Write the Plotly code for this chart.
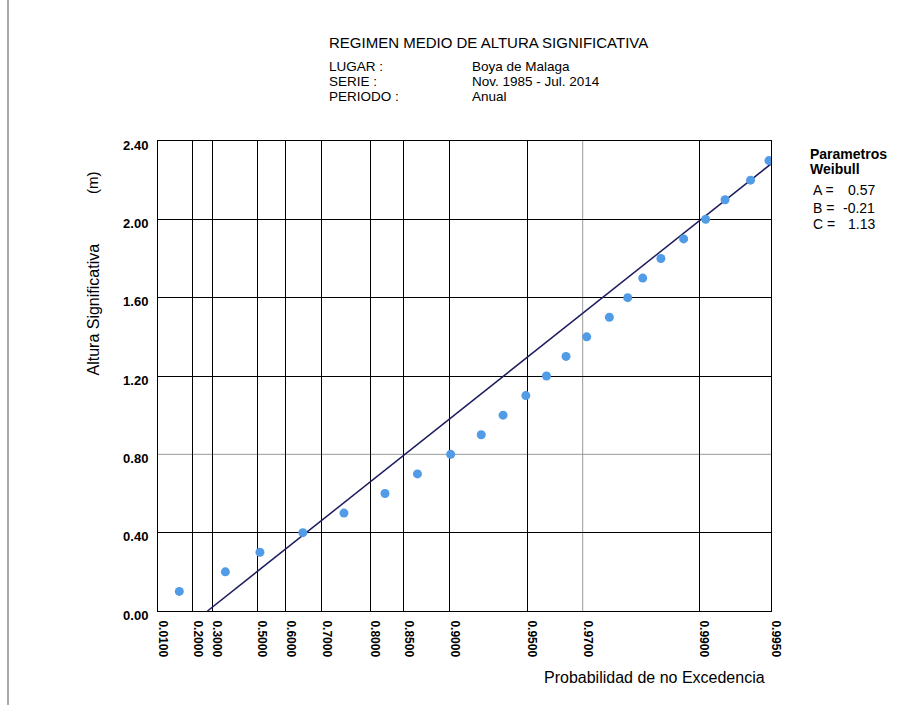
import numpy as np
import plotly.graph_objects as go

# Weibull parameters
A_par, B_par, C_par = 0.57, -0.21, 1.13

# Observed data (height in m, non-exceedance probability)
heights = [0.1, 0.2, 0.3, 0.4, 0.5, 0.6, 0.7, 0.8, 0.9, 1.0, 1.1, 1.2,
           1.3, 1.4, 1.5, 1.6, 1.7, 1.8, 1.9, 2.0, 2.1, 2.2, 2.3]
probs = [0.125, 0.364, 0.510, 0.651, 0.751, 0.824, 0.867, 0.9006, 0.9243,
         0.9378, 0.9494, 0.9581, 0.9650, 0.9711, 0.9766, 0.9803, 0.9829,
         0.9856, 0.9884, 0.9906, 0.9922, 0.9939, 0.9949]

x_ticks = [0.01, 0.2, 0.3, 0.5, 0.6, 0.7, 0.8, 0.85, 0.9, 0.95, 0.97, 0.99, 0.995]
y_ticks = [0.0, 0.4, 0.8, 1.2, 1.6, 2.0, 2.4]
x_grey = [0.97]
y_grey = [0.8]


def weib(p):
    return (-np.log(1 - np.asarray(p, dtype=float))) ** (1.0 / C_par)


# layout geometry (pixels)
W, H = 901, 705
ML, MR, MT, MB = 158, 130, 141, 94
PW, PH = W - ML - MR, H - MT - MB


def px(x):
    return (x - ML) / PW


def py(y):
    return (H - MB - y) / PH


FONT = "Liberation Sans"

fig = go.Figure()

# fitted Weibull line
t_line = np.array([-B_par / A_par, float(weib(x_ticks[-1]))])
fig.add_trace(go.Scatter(
    x=t_line, y=B_par + A_par * t_line, mode="lines",
    line=dict(color="#1c1c5e", width=1.5), showlegend=False, hoverinfo="skip"))

# observed points
fig.add_trace(go.Scatter(
    x=weib(probs), y=heights, mode="markers",
    marker=dict(color="#529be6", size=9), showlegend=False))

shapes = []
for g in x_grey:
    shapes.append(dict(type="line", xref="x", yref="paper", x0=float(weib(g)), x1=float(weib(g)),
                       y0=0, y1=1, line=dict(color="#9a9a9a", width=1), layer="below"))
for g in y_grey:
    shapes.append(dict(type="line", xref="paper", yref="y", x0=0, x1=1, y0=g, y1=g,
                       line=dict(color="#9a9a9a", width=1), layer="below"))
shapes.append(dict(type="line", xref="paper", yref="paper", x0=px(8), x1=px(8), y0=py(0), y1=py(H),
                   line=dict(color="#555555", width=1)))

ann = []


def add_text(text, x, y, size, xanchor="left", bold=False, angle=0):
    ann.append(dict(text=text, xref="paper", yref="paper", x=px(x), y=py(y),
                    xanchor=xanchor, yanchor="middle", showarrow=False, textangle=angle,
                    font=dict(family=FONT, size=size, color="black",
                              weight="bold" if bold else "normal")))


add_text("REGIMEN MEDIO DE ALTURA SIGNIFICATIVA", 327, 42.5, 15)
add_text("LUGAR :", 327, 66.5, 13.5)
add_text("SERIE :", 327, 81.5, 13.5)
add_text("PERIODO :", 327, 96.5, 13.5)
add_text("Boya de Malaga", 470, 66.5, 13.5)
add_text("Nov. 1985 - Jul. 2014", 470, 81.5, 13.5)
add_text("Anual", 470, 96.5, 13.5)

add_text("Parametros", 808, 154, 14, bold=True)
add_text("Weibull", 808, 169, 14, bold=True)
for lab, val, yy in [("A =", "0.57", 190), ("B =", "-0.21", 207.5), ("C =", "1.13", 224)]:
    add_text(lab, 811, yy, 14)
    add_text(val, 876.5, yy, 14, xanchor="right")

add_text("Altura Significativa", 82, 310, 16, angle=-90)
add_text("(m)", 82, 182.5, 15, angle=-90)
add_text("Probabilidad de no Excedencia", 767, 677, 16, xanchor="right")

x_black = [p for p in x_ticks if p not in x_grey]
y_black = [v for v in y_ticks if v not in y_grey]

fig.update_layout(
    width=W, height=H,
    margin=dict(l=ML, r=MR, t=MT, b=MB, autoexpand=False),
    paper_bgcolor="white", plot_bgcolor="white",
    shapes=shapes, annotations=ann,
    xaxis=dict(
        range=[float(weib(x_ticks[0])), float(weib(x_ticks[-1]))],
        tickmode="array", tickvals=weib(x_ticks), ticktext=[f"{p:.4f}" for p in x_ticks],
        tickangle=90, showgrid=False,
        minor=dict(tickmode="array", tickvals=weib(x_black), showgrid=True,
                   gridcolor="black", gridwidth=1, ticks=""),
        zeroline=False, showline=True, mirror=True, linecolor="black", linewidth=1,
        ticks="", ticklabelstandoff=6, ticklabelshift=5,
        tickfont=dict(family=FONT, size=12, color="black", weight="bold"),
    ),
    yaxis=dict(
        range=[0, 2.4], tickmode="array", tickvals=y_ticks,
        ticktext=[f"{v:.2f}" for v in y_ticks], showgrid=False,
        minor=dict(tickmode="array", tickvals=y_black, showgrid=True,
                   gridcolor="black", gridwidth=1, ticks=""),
        zeroline=False, showline=True, mirror=True, linecolor="black", linewidth=1,
        ticks="", ticklabelstandoff=6, ticklabelshift=4,
        tickfont=dict(family=FONT, size=13, color="black", weight="bold"),
    ),
)

fig.write_html("out.html", config={"displayModeBar": False},
               post_script="document.body.style.margin='0px';")
